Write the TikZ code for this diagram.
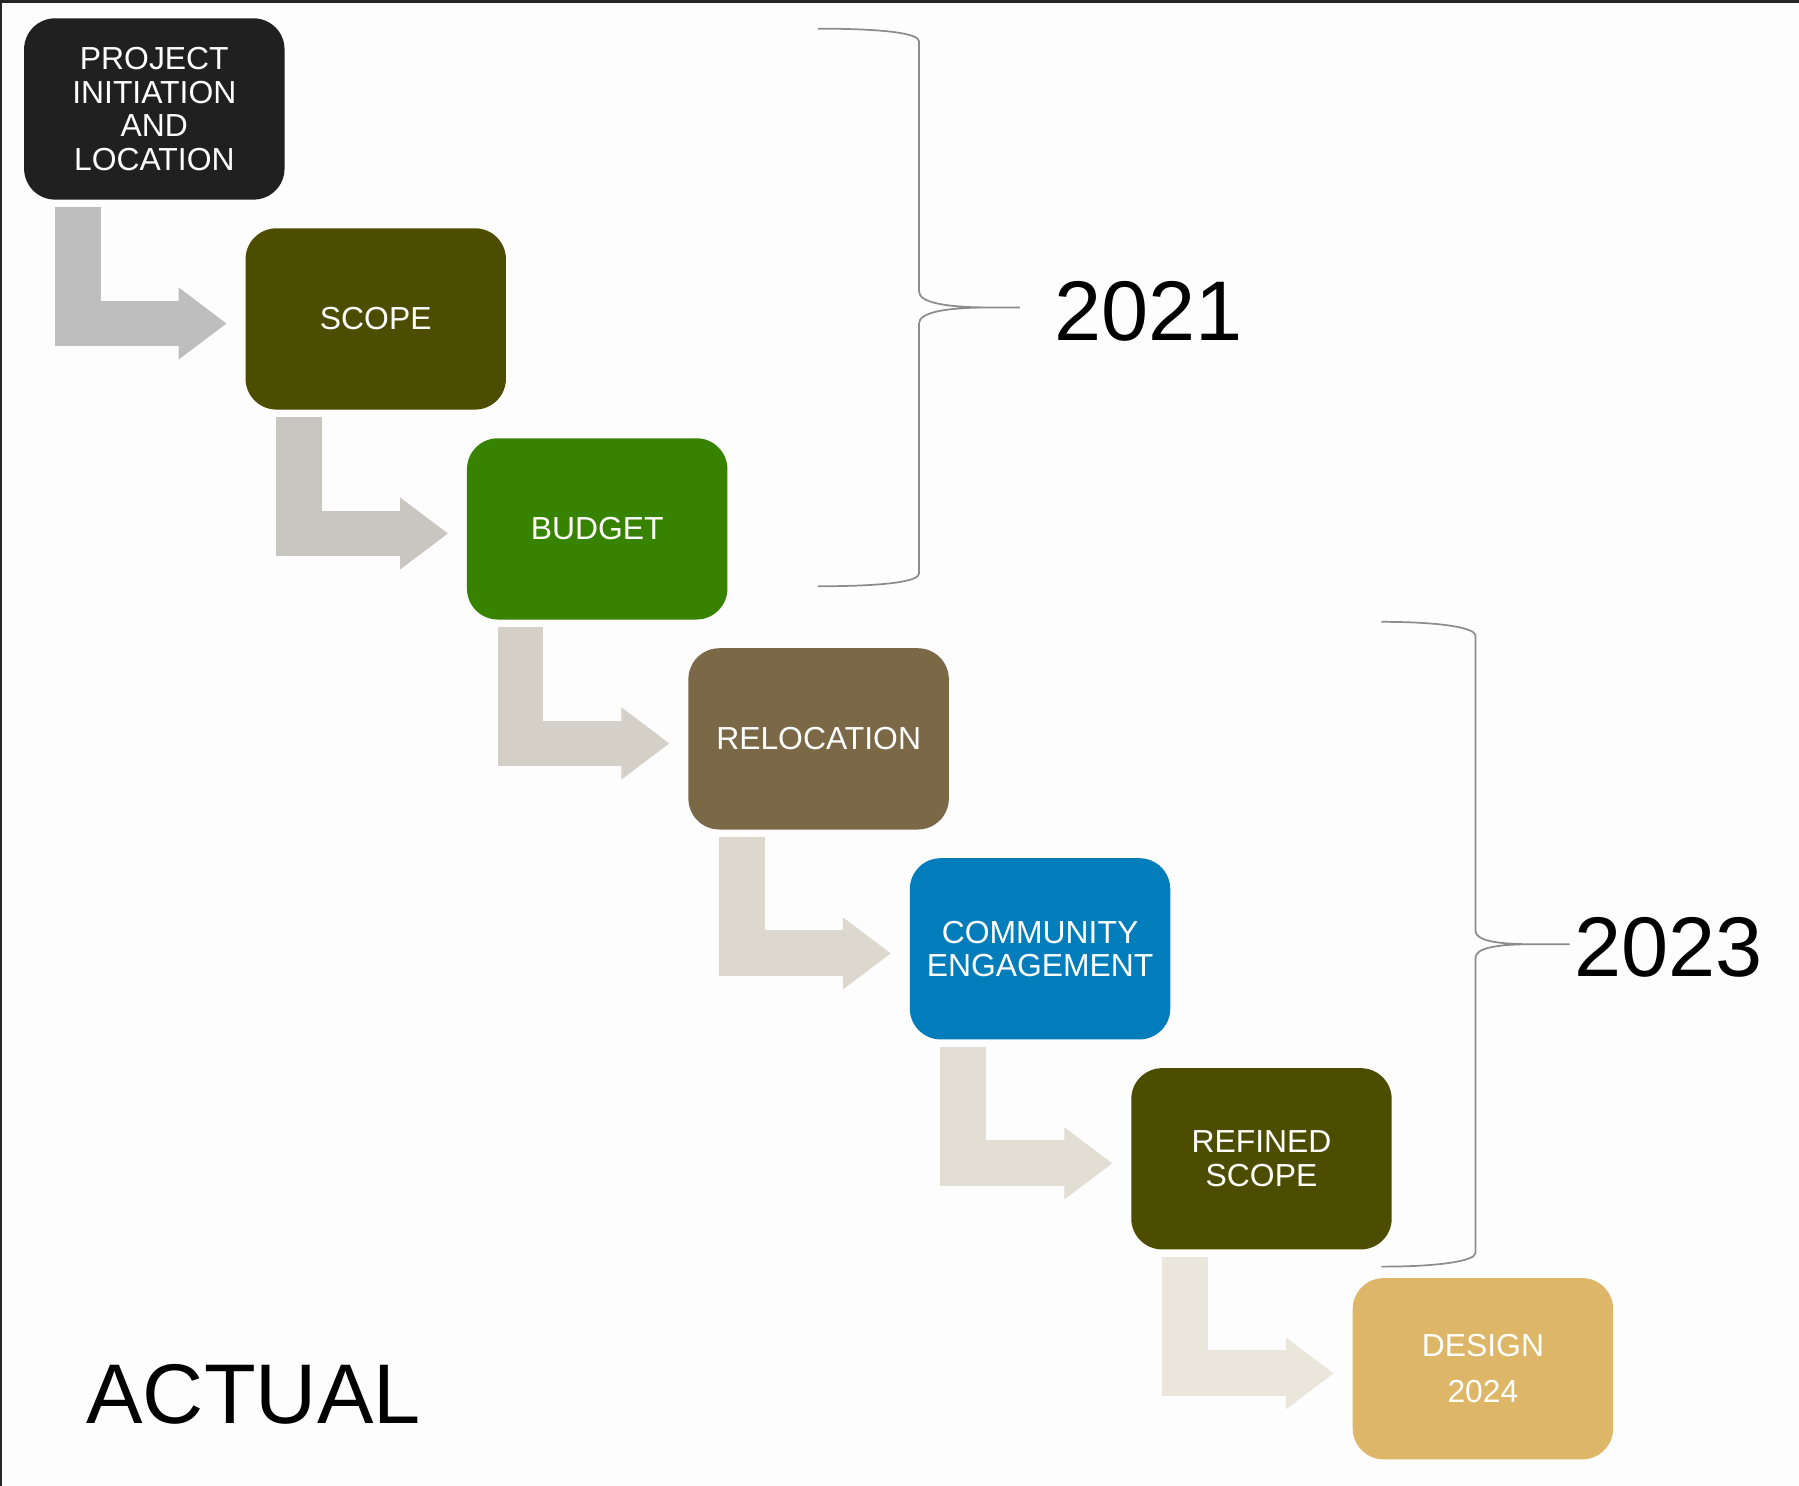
\documentclass[tikz,border=0pt]{standalone}
\usepackage{fontspec}
\setmainfont{Liberation Sans}
\usetikzlibrary{arrows.meta}
\definecolor{frame}{RGB}{38,38,38}
\definecolor{paper}{RGB}{253,253,253}
\definecolor{stageblack}{RGB}{32,32,32}
\definecolor{stageolive}{RGB}{77,77,0}
\definecolor{stagegreen}{RGB}{55,131,0}
\definecolor{stagebrown}{RGB}{122,104,71}
\definecolor{stageblue}{RGB}{0,125,186}
\definecolor{stagegold}{RGB}{221,182,103}
\definecolor{flowA}{RGB}{190,190,190}
\definecolor{flowB}{RGB}{201,198,193}
\definecolor{flowC}{RGB}{212,208,199}
\definecolor{flowD}{RGB}{221,216,205}
\definecolor{flowE}{RGB}{227,222,211}
\definecolor{flowF}{RGB}{234,230,220}
\definecolor{bracegray}{RGB}{140,140,140}
\begin{document}
\begin{tikzpicture}[
    stage/.style={rectangle, rounded corners=0.54cm, minimum width=4.54cm, minimum height=3.16cm, text=white, align=center, font=\fontsize{15.8}{16.6}\selectfont},
    flow/.style={line width=0.8cm, -{Triangle[length=0.84cm, width=1.2cm]}},
    yearbrace/.style={draw=bracegray, line width=0.03cm},
    year/.style={font=\fontsize{42}{42}\selectfont}
]

\fill[frame] (0,0) rectangle (31.36,25.9);
\fill[paper] (0.03,0) rectangle (31.36,25.84);

\node[stage, fill=stageblack] (S-1) at (2.69, 24.0) {PROJECT\\INITIATION\\AND\\LOCATION};
\node[stage, fill=stageolive] (S-2) at (6.55, 20.34) {SCOPE};
\node[stage, fill=stagegreen] (S-3) at (10.41, 16.68) {BUDGET};
\node[stage, fill=stagebrown] (S-4) at (14.27, 13.02) {RELOCATION};
\node[stage, fill=stageblue] (S-5) at (18.13, 9.36) {COMMUNITY\\ENGAGEMENT};
\node[stage, fill=stageolive] (S-6) at (21.99, 5.70) {REFINED\\SCOPE};
\node[stage, fill=stagegold] (S-7) at (25.85, 2.04) {DESIGN\\[0.22cm]2024};

% Steps

\foreach \i/\j/\c in {1/2/flowA, 2/3/flowB, 3/4/flowC, 4/5/flowD, 5/6/flowE, 6/7/flowF}
    \draw[flow, draw=\c] ([shift={(0.94,-0.12)}]S-\i.south west) |- ([shift={(-0.32,-0.08)}]S-\j.west);

% Years

\draw[yearbrace] (14.26,25.40) .. controls (15.4,25.40) and (16.02,25.32) .. (16.02,25.18) -- (16.02,20.82)
    .. controls (16.02,20.62) and (16.5,20.54) .. (17.28,20.54) -- (17.78,20.54)
    (17.28,20.54) .. controls (16.5,20.54) and (16.02,20.46) .. (16.02,20.26) -- (16.02,15.90)
    .. controls (16.02,15.76) and (15.4,15.68) .. (14.26,15.68);
\draw[yearbrace] (24.08,15.06) .. controls (25.1,15.06) and (25.72,14.96) .. (25.72,14.82) -- (25.72,9.68)
    .. controls (25.72,9.50) and (26.1,9.44) .. (26.72,9.44) -- (27.36,9.44)
    (26.72,9.44) .. controls (26.1,9.44) and (25.72,9.38) .. (25.72,9.20) -- (25.72,4.06)
    .. controls (25.72,3.92) and (25.1,3.82) .. (24.08,3.82);

\node[year] (Y-1) at (20.02, 20.47) {2021};
\node[year] (Y-2) at (29.08, 9.38) {2023};
\node[year] (actual) at (4.42, 1.60) {ACTUAL};

\end{tikzpicture}
\end{document}
